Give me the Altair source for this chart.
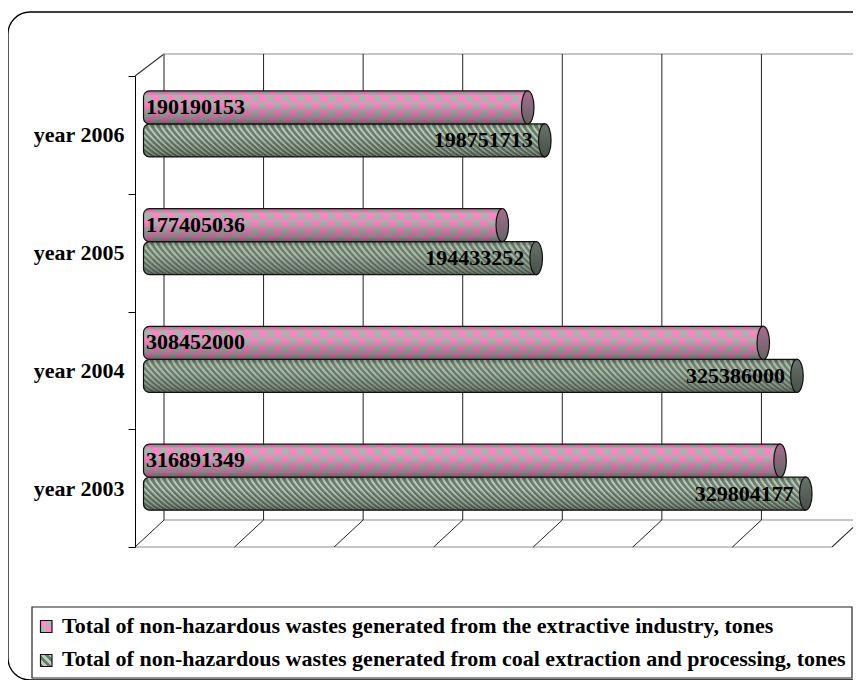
import math
import altair as alt
import pandas as pd

years = ["year 2006", "year 2005", "year 2004", "year 2003"]
extractive = [190190153, 177405036, 308452000, 316891349]
coal = [198751713, 194433252, 325386000, 329804177]
grid_ticks = [0, 50000000, 100000000, 150000000, 200000000, 250000000, 300000000, 350000000]
legend_labels = [
    "Total of non-hazardous wastes generated from the extractive industry, tones",
    "Total of non-hazardous wastes generated from coal extraction and processing, tones",
]

FONT = "Liberation Serif"
OX, OY = 135, 76          # page position of the plot origin
W, H = 697, 471
DEPTH_X, DEPTH_Y = 29, 27
BAR_H = 33
BAR_DX = 14
PINK_DY, GREEN_DY = -27.5, 5.5
CAP = 5.5


def px(x):
    return x - OX


def py(y):
    return y - OY


df = pd.DataFrame({"year": years, "extractive": extractive, "coal": coal, "base": [0, 0, 0, 0]})
grid_df = pd.DataFrame({"tick": grid_ticks})
one = alt.Data(values=[{"a": 1}])

X = alt.X("base:Q", scale=alt.Scale(domain=[0, 350000000], nice=False), axis=None)
Y = alt.Y(
    "year:N",
    sort=years,
    scale=alt.Scale(type="band", paddingInner=0, paddingOuter=0),
    title=None,
    axis=alt.Axis(
        labelFont=FONT, labelFontWeight="bold", labelFontSize=22, labelColor="black",
        tickBand="extent", tickSize=7, tickColor="black", domainColor="black",
        labelPadding=4, grid=False,
    ),
)

layers = []

# outer frame
layers.append(alt.Chart(one).mark_rect(fill="transparent", stroke="black", strokeWidth=1.3, cornerRadius=22).encode(
    x=alt.value(px(8)), x2=alt.value(px(875)), y=alt.value(py(12)), y2=alt.value(py(680))))

# walls and floor
def seg(x1, y1, x2, y2, color):
    return alt.Chart(one).mark_rule(stroke=color, strokeWidth=1.2).encode(
        x=alt.value(px(x1)), x2=alt.value(px(x2)), y=alt.value(py(y1)), y2=alt.value(py(y2)))


GREY = "#8c8c8c"
layers += [
    seg(164, 54, 861, 54, GREY),
    seg(164, 520, 861, 520, GREY),
    seg(135, 547, 832, 547, GREY),
    seg(832, 547, 861, 520, GREY),
    seg(135, 76, 164, 54, "#333333"),
]

grid_x = alt.X("tick:Q", scale=alt.Scale(domain=[0, 350000000], nice=False), axis=None)
layers.append(alt.Chart(grid_df).mark_rule(stroke="#222222", strokeWidth=1, xOffset=DEPTH_X, x2Offset=DEPTH_X).encode(
    x=grid_x, x2="tick:Q", y=alt.value(py(54)), y2=alt.value(py(520))))
layers.append(alt.Chart(grid_df).mark_rule(stroke="#222222", strokeWidth=1, x2Offset=DEPTH_X).encode(
    x=grid_x, x2="tick:Q", y=alt.value(py(547)), y2=alt.value(py(520))))
layers.append(alt.Chart(pd.DataFrame({"tick": [0]})).mark_rule(stroke=GREY, strokeWidth=1.2, xOffset=DEPTH_X, x2Offset=DEPTH_X).encode(
    x=grid_x, x2="tick:Q", y=alt.value(py(54)), y2=alt.value(py(520))))

shade = alt.Gradient(
    gradient="linear", x1=0, y1=0, x2=0, y2=1,
    stops=[
        alt.GradientStop(offset=0, color="rgba(0,0,0,0.28)"),
        alt.GradientStop(offset=0.14, color="rgba(0,0,0,0.03)"),
        alt.GradientStop(offset=0.4, color="rgba(0,0,0,0.05)"),
        alt.GradientStop(offset=0.85, color="rgba(0,0,0,0.28)"),
        alt.GradientStop(offset=1, color="rgba(0,0,0,0.45)"),
    ],
)


def ellipse_inset(off):
    t = min(1.0, abs(off) / (BAR_H / 2))
    return CAP * (1 - math.sqrt(1 - t * t))


ELLIPSE = ("M0,-1 C0.21,-1 0.38,-0.552 0.38,0 C0.38,0.552 0.21,1 0,1 "
           "C-0.21,1 -0.38,0.552 -0.38,0 C-0.38,-0.552 -0.21,-1 0,-1 Z")


def body(field, dy, base_color):
    return alt.Chart().mark_rect(
        fill=base_color, height=BAR_H, yOffset=dy,
        xOffset=BAR_DX - CAP, x2Offset=BAR_DX,
        cornerRadiusTopLeft=6, cornerRadiusBottomLeft=6,
    ).encode(x=X, x2=f"{field}:Q", y=Y)


def rows_rule(field, dy, off, width, color, dash, dash_off):
    inset = ellipse_inset(off)
    return alt.Chart().mark_rule(
        stroke=color, strokeWidth=width, strokeDash=dash, strokeDashOffset=dash_off,
        yOffset=dy + off, xOffset=BAR_DX - CAP + inset, x2Offset=BAR_DX,
    ).encode(x=X, x2=f"{field}:Q", y=Y)


def overlay(field, dy):
    return alt.Chart().mark_rect(
        fill=shade, height=BAR_H, yOffset=dy,
        xOffset=BAR_DX - CAP, x2Offset=BAR_DX,
        stroke="#111111", strokeWidth=1.2,
        cornerRadiusTopLeft=6, cornerRadiusBottomLeft=6,
    ).encode(x=X, x2=f"{field}:Q", y=Y)


def cap(field, dy, top, bottom):
    fill = alt.Gradient(gradient="linear", x1=0, y1=0, x2=0, y2=1,
                        stops=[alt.GradientStop(offset=0, color=top),
                               alt.GradientStop(offset=1, color=bottom)])
    return alt.Chart().mark_point(
        shape=ELLIPSE, size=BAR_H * BAR_H, filled=True, fill=fill, opacity=1,
        stroke="#111111", strokeWidth=1.2, xOffset=BAR_DX, yOffset=dy,
    ).encode(x=alt.X(f"{field}:Q", scale=alt.Scale(domain=[0, 350000000], nice=False), axis=None), y=Y)


# green (hatched) bars
layers.append(body("coal", GREEN_DY, "#747f75"))
for r in range(BAR_H):
    off = r + 0.5 - BAR_H / 2
    layers.append(rows_rule("coal", GREEN_DY, off, 1.05, "#b8d4b8", [2.4, 3.6], 6 - (r % 6)))
layers.append(overlay("coal", GREEN_DY))
layers.append(cap("coal", GREEN_DY, "#687269", "#475048"))

# pink (checked) bars
layers.append(body("extractive", PINK_DY, "#b6b6b6"))
edges = [-16.5, -12.5, -4.9, 2.7, 10.3, 16.5]
for i in range(5):
    off = (edges[i] + edges[i + 1]) / 2
    width = edges[i + 1] - edges[i]
    layers.append(rows_rule("extractive", PINK_DY, off, width, "#ff8cc8", [7.65, 7.65], 7.65 * (i % 2)))
layers.append(overlay("extractive", PINK_DY))
layers.append(cap("extractive", PINK_DY, "#a86c90", "#646464"))

# value labels
layers.append(alt.Chart().mark_text(
    align="left", baseline="middle", dx=11, dy=-28, font=FONT, fontWeight="bold", fontSize=22, color="black",
).encode(x=X, y=Y, text=alt.Text("extractive:Q", format="d")))
layers.append(alt.Chart().mark_text(
    align="right", baseline="middle", dx=2, dy=5.5, font=FONT, fontWeight="bold", fontSize=22, color="black",
).encode(x=alt.X("coal:Q", scale=alt.Scale(domain=[0, 350000000], nice=False), axis=None), y=Y,
         text=alt.Text("coal:Q", format="d")))

# legend
layers.append(alt.Chart(one).mark_rect(fill="transparent", stroke="#222222", strokeWidth=1.2).encode(
    x=alt.value(px(32)), x2=alt.value(px(852)), y=alt.value(py(607)), y2=alt.value(py(678))))


def sq(x1, y1, x2, y2, fill, stroke=None):
    kw = {"stroke": stroke, "strokeWidth": 1.2} if stroke else {}
    return alt.Chart(one).mark_rect(fill=fill, **kw).encode(
        x=alt.value(px(x1)), x2=alt.value(px(x2)), y=alt.value(py(y1)), y2=alt.value(py(y2)))


stripe_stops = []
n = 6
for k in range(n):
    c = "#b4d4b4" if k % 2 else "#6f7a70"
    stripe_stops.append(alt.GradientStop(offset=k / n, color=c))
    stripe_stops.append(alt.GradientStop(offset=(k + 1) / n, color=c))
stripes = alt.Gradient(gradient="linear", x1=0, y1=1, x2=1, y2=0, stops=stripe_stops)

layers += [
    sq(40.5, 620.5, 52, 632.5, "#b6b6b6"),
    sq(40.5, 620.5, 46.2, 626.5, "#ff8cc8"),
    sq(46.2, 626.5, 52, 632.5, "#ff8cc8"),
    sq(40.5, 620.5, 52, 632.5, "transparent", "#111111"),
    sq(40.5, 654.5, 52, 666.5, stripes, "#111111"),
]
legend_df = pd.DataFrame({"label": legend_labels, "pos": [625.5, 659]})
for i, lab in enumerate(legend_labels):
    layers.append(alt.Chart(legend_df.iloc[[i]]).mark_text(
        align="left", baseline="middle", font=FONT, fontWeight="bold", fontSize=22, color="black",
    ).encode(x=alt.value(px(62)), y=alt.value(py(legend_df.pos[i])), text="label:N"))

chart = alt.layer(*layers, data=df).properties(
    width=W, height=H,
    padding={"left": OX - 8, "top": OY - 8, "right": 845 - (OX - 8) - W, "bottom": 672 - (OY - 8) - H},
    autosize=alt.AutoSizeParams(type="none"),
    background="white",
).configure_view(stroke=None)

chart.save("out.html", embed_options={"renderer": "svg", "actions": False})
